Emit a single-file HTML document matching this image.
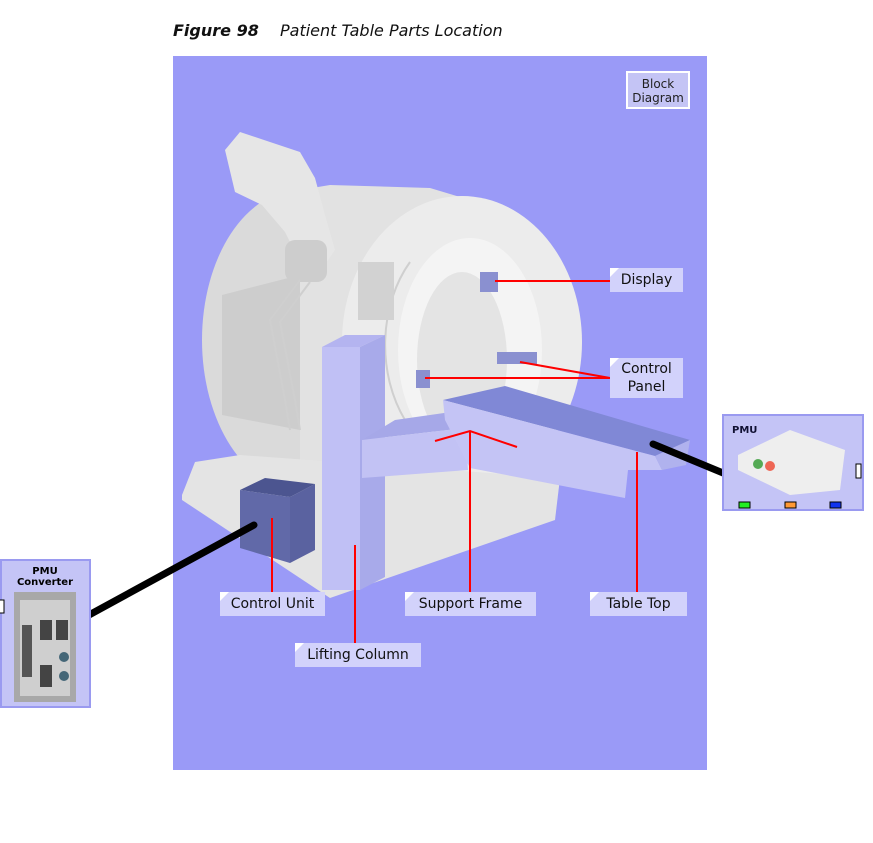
<!DOCTYPE html>
<html><head><style>
body{margin:0;background:#fff;width:873px;height:843px;overflow:hidden;position:relative;font-family:"Liberation Sans",sans-serif}
.t{position:absolute;top:21px;font-family:"DejaVu Sans","Liberation Sans",sans-serif;font-style:italic;font-size:16px;color:#111}
.lb{position:absolute;background:#d2d2fb;font-family:"DejaVu Sans","Liberation Sans",sans-serif;font-size:14px;color:#111;text-align:center;line-height:18px}
.lb:before{content:"";position:absolute;left:0;top:0;border-top:9px solid #fff;border-right:9px solid transparent}
</style></head><body>
<div class="t" style="left:173px;font-weight:bold">Figure 98</div>
<div class="t" style="left:280px">Patient Table Parts Location</div>
<svg width="873" height="843" style="position:absolute;left:0;top:0">
<rect x="173" y="56" width="534" height="714" fill="#9a9af7"/>
<rect x="627" y="72" width="62" height="36" fill="#c4c4f5" stroke="#fff" stroke-width="2"/>
<text x="658" y="88" font-size="12" text-anchor="middle" font-family="DejaVu Sans" fill="#222">Block</text>
<text x="658" y="102" font-size="12" text-anchor="middle" font-family="DejaVu Sans" fill="#222">Diagram</text>
<!-- scanner body -->
<ellipse cx="300" cy="340" rx="98" ry="150" fill="#dadada"/>
<path d="M300,190 L330,185 L430,188 L470,200 L470,482 L300,490 Z" fill="#e2e2e2"/>
<ellipse cx="462" cy="342" rx="120" ry="146" fill="#ececec"/>
<ellipse cx="470" cy="350" rx="72" ry="112" fill="#f4f4f4"/>
<ellipse cx="462" cy="360" rx="45" ry="88" fill="#e4e4e4"/>
<path d="M410,262 A90,120 0 0 0 405,420" stroke="#cfcfcf" stroke-width="2" fill="none"/>
<path d="M222,295 L300,275 L300,430 L222,415 Z" fill="#cdcdcd"/>
<rect x="358" y="262" width="36" height="58" fill="#d2d2d2"/>
<!-- tower -->
<path d="M225,150 L240,132 L270,142 L300,152 L315,178 L325,215 L335,250 L320,272 L300,262 L285,232 L262,205 L235,192 Z" fill="#e6e6e6"/>
<rect x="285" y="240" width="42" height="42" fill="#cdcdcd" rx="10"/>
<g stroke="#cfcfcf" stroke-width="2" fill="none"><path d="M300,280 L270,320 L285,400 L290,430"/><path d="M310,282 L280,322 L295,400 L300,430"/></g>
<!-- base -->
<path d="M182,495 L195,462 L240,455 L560,478 L555,520 L330,598 L182,500 Z" fill="#e4e4e4"/>
<!-- control unit -->
<path d="M240,490 L265,478 L315,484 L290,497 Z" fill="#4c5590"/>
<path d="M240,490 L290,497 L290,563 L240,548 Z" fill="#6169a8"/>
<path d="M290,497 L315,484 L315,550 L290,563 Z" fill="#5a62a0"/>
<!-- lifting column -->
<path d="M322,347 L345,335 L385,335 L360,347 Z" fill="#b4b4f0"/>
<rect x="322" y="347" width="38" height="243" fill="#c0c0f5"/>
<path d="M360,347 L385,335 L385,577 L360,590 Z" fill="#a8aaea"/>
<!-- support frame -->
<path d="M362,440 L395,420 L465,410 L465,428 Z" fill="#a6a8e8"/>
<path d="M362,440 L465,428 L468,470 L362,478 Z" fill="#c2c2f4"/>
<!-- table top -->
<path d="M443,400 L505,386 L690,440 L655,456 Z" fill="#8088d6"/>
<path d="M443,400 L655,456 L662,470 L628,470 L625,498 L470,468 L445,420 Z" fill="#c4c4f5"/>
<path d="M655,456 L690,440 L686,465 L662,470 Z" fill="#b0b2ee"/>
<rect x="480" y="272" width="18" height="20" fill="#8a90d0"/>
<rect x="497" y="352" width="40" height="12" fill="#8a90d0"/>
<rect x="416" y="370" width="14" height="18" fill="#8a90d0"/>
<g stroke="#f00" stroke-width="2" fill="none">
<line x1="495" y1="281" x2="610" y2="281"/>
<line x1="425" y1="378" x2="610" y2="378"/>
<line x1="520" y1="362" x2="610" y2="378"/>
<line x1="272" y1="518" x2="272" y2="592"/>
<line x1="355" y1="545" x2="355" y2="643"/>
<line x1="470" y1="431" x2="470" y2="592"/>
<polyline points="435,441 470,431 517,447"/>
<line x1="637" y1="452" x2="637" y2="592"/>
</g>
<g stroke="#000" stroke-width="7" stroke-linecap="round">
<line x1="78" y1="621" x2="254" y2="525"/>
<line x1="653" y1="444" x2="740" y2="480"/>
</g>
<rect x="1" y="560" width="89" height="147" fill="#c4c4f6" stroke="#9a9af0" stroke-width="2"/>
<rect x="14" y="592" width="62" height="110" fill="#a8a8a8"/>
<rect x="20" y="600" width="50" height="96" fill="#cfcfcf"/>
<rect x="40" y="620" width="12" height="20" fill="#444"/><rect x="56" y="620" width="12" height="20" fill="#444"/>
<rect x="22" y="625" width="10" height="52" fill="#555"/><rect x="40" y="665" width="12" height="22" fill="#444"/>
<circle cx="64" cy="657" r="5" fill="#467"/><circle cx="64" cy="676" r="5" fill="#467"/>
<text x="45" y="574" font-size="10" font-weight="bold" text-anchor="middle" font-family="DejaVu Sans">PMU</text>
<text x="45" y="585" font-size="10" font-weight="bold" text-anchor="middle" font-family="DejaVu Sans">Converter</text>
<rect x="-2" y="600" width="6" height="13" fill="#fff" stroke="#000"/>
<rect x="723" y="415" width="140" height="95" fill="#c4c4f6" stroke="#9a9af0" stroke-width="2"/>
<path d="M738,455 L790,430 L845,450 L840,490 L790,495 L738,470 Z" fill="#eeeeee"/>
<circle cx="758" cy="464" r="5" fill="#5a5"/><circle cx="770" cy="466" r="5" fill="#e65"/>
<text x="732" y="433" font-size="10" font-weight="bold" font-family="DejaVu Sans" fill="#113">PMU</text>
<rect x="739" y="502" width="11" height="6" fill="#2e2" stroke="#000"/>
<rect x="785" y="502" width="11" height="6" fill="#f93" stroke="#000"/>
<rect x="830" y="502" width="11" height="6" fill="#13e" stroke="#000"/>
<rect x="856" y="464" width="5" height="14" fill="#fff" stroke="#000"/>
</svg>
<div class="lb" style="left:610px;top:268px;width:73px;height:24px;line-height:24px">Display</div>
<div class="lb" style="left:610px;top:358px;width:73px;height:40px;padding-top:2px;box-sizing:border-box">Control<br>Panel</div>
<div class="lb" style="left:220px;top:592px;width:105px;height:24px;line-height:24px">Control Unit</div>
<div class="lb" style="left:295px;top:643px;width:126px;height:24px;line-height:24px">Lifting Column</div>
<div class="lb" style="left:405px;top:592px;width:131px;height:24px;line-height:24px">Support Frame</div>
<div class="lb" style="left:590px;top:592px;width:97px;height:24px;line-height:24px">Table Top</div>
</body></html>
